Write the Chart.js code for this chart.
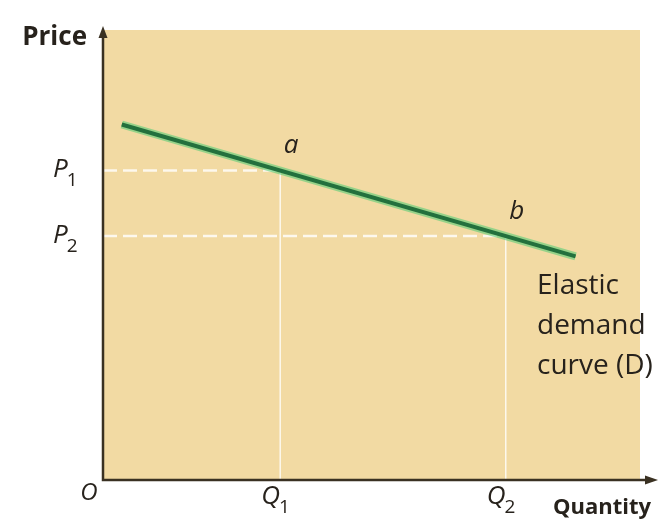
<!DOCTYPE html>
<html>
<head>
<meta charset="utf-8">
<script src="https://cdn.jsdelivr.net/npm/chart.js@4.4.1/dist/chart.umd.min.js"></script>
<style>
  html, body { margin: 0; padding: 0; background: #ffffff; }
  #wrap { width: 663px; height: 523px; }
</style>
</head>
<body>
<div id="wrap"><canvas id="demand" width="663" height="523"></canvas></div>
<script>
(function() {
	'use strict';

	// Demand curve end points (quantity, price).
	const demandQty = [0.35, 8.8];
	const demandPrice = [7.9, 4.97];

	// Marked points a and b on the curve.
	const pointNames = ['a', 'b'];
	const pointQty = [3.3, 7.5];
	const pointPrice = [6.88, 5.42];

	// Axis labels.
	const qtyTicks = ['Q1', 'Q2'];
	const priceTicks = ['P1', 'P2'];
	const curveLabel = ['Elastic', 'demand', 'curve (D)'];

	const axisColor = '#3a3122';
	const fillColor = '#f2daa3';
	const lineColor = '#23703d';
	const glowColor = 'rgba(90, 205, 120, 0.6)';
	const guideColor = 'rgba(255, 255, 255, 0.8)';
	const textColor = '#27221c';
	const fontFamily = '"Open Sans", "Noto Sans", sans-serif';

	const demandData = demandQty.map(function(q, i) {
		return { x: q, y: demandPrice[i] };
	});

	// Dashed horizontal guides from the price axis, thin vertical ones to the quantity axis.
	const guideSets = [];
	pointQty.forEach(function(q, i) {
		guideSets.push({
			data: [{ x: 0, y: pointPrice[i] }, { x: q, y: pointPrice[i] }],
			borderColor: guideColor,
			borderWidth: 2.5,
			borderDash: [14, 6],
			pointRadius: 0,
			showLine: true,
			order: 3
		});
		guideSets.push({
			data: [{ x: q, y: pointPrice[i] }, { x: q, y: 0 }],
			borderColor: guideColor,
			borderWidth: 1.5,
			pointRadius: 0,
			showLine: true,
			order: 3
		});
	});

	// Plot background, axes with arrows and all the text labels.
	const diagramPlugin = {
		id: 'diagram',
		beforeDatasetsDraw: function(chart) {
			const a = chart.chartArea;
			const ctx = chart.ctx;
			ctx.save();
			ctx.fillStyle = fillColor;
			ctx.fillRect(a.left, a.top, a.right - a.left, a.bottom - a.top);
			ctx.restore();
		},
		afterDatasetsDraw: function(chart) {
			const a = chart.chartArea;
			const ctx = chart.ctx;
			const xs = chart.scales.x;
			const ys = chart.scales.y;
			ctx.save();

			// Axes.
			ctx.strokeStyle = axisColor;
			ctx.fillStyle = axisColor;
			ctx.lineWidth = 2.5;
			ctx.beginPath();
			ctx.moveTo(a.left, a.top + 4);
			ctx.lineTo(a.left, a.bottom);
			ctx.lineTo(a.right + 10, a.bottom);
			ctx.stroke();

			ctx.beginPath();
			ctx.moveTo(a.left, a.top - 4);
			ctx.lineTo(a.left - 4.5, a.top + 8);
			ctx.lineTo(a.left + 4.5, a.top + 8);
			ctx.closePath();
			ctx.fill();

			ctx.beginPath();
			ctx.moveTo(a.right + 18, a.bottom);
			ctx.lineTo(a.right + 5, a.bottom - 4.5);
			ctx.lineTo(a.right + 5, a.bottom + 4.5);
			ctx.closePath();
			ctx.fill();

			ctx.fillStyle = textColor;
			ctx.textBaseline = 'middle';

			// Axis titles.
			ctx.font = 'bold 26px ' + fontFamily;
			ctx.textAlign = 'right';
			ctx.fillText('Price', a.left - 16, 38);
			ctx.font = 'bold 22px ' + fontFamily;
			ctx.textAlign = 'left';
			ctx.fillText('Quantity', 553, 508);

			// Origin.
			ctx.font = 'italic 24px ' + fontFamily;
			ctx.textAlign = 'center';
			ctx.fillText('O', a.left - 14, 493);

			// Letter with a subscript digit.
			function subLabel(text, x, y) {
				ctx.font = 'italic 26px ' + fontFamily;
				ctx.textAlign = 'left';
				const w = ctx.measureText(text[0]).width;
				ctx.fillText(text[0], x, y);
				ctx.font = '19px ' + fontFamily;
				ctx.fillText(text[1], x + w - 1, y + 11);
			}

			qtyTicks.forEach(function(t, i) {
				subLabel(t, xs.getPixelForValue(pointQty[i]) - 19, 497);
			});
			priceTicks.forEach(function(t, i) {
				subLabel(t, 53, ys.getPixelForValue(pointPrice[i]) - 1);
			});

			// Point names.
			ctx.font = 'italic 26px ' + fontFamily;
			ctx.textAlign = 'center';
			pointNames.forEach(function(n, i) {
				ctx.fillText(n, xs.getPixelForValue(pointQty[i]) + 11, ys.getPixelForValue(pointPrice[i]) - 25);
			});

			// Curve label.
			ctx.font = '28px ' + fontFamily;
			ctx.textAlign = 'left';
			curveLabel.forEach(function(line, i) {
				ctx.fillText(line, 537, 286 + i * 40);
			});

			ctx.restore();
		}
	};

	const ctx = document.getElementById('demand').getContext('2d');
	new Chart(ctx, {
		type: 'scatter',
		data: {
			datasets: [
				{
					data: demandData,
					borderColor: lineColor,
					borderWidth: 4,
					pointRadius: 0,
					showLine: true,
					order: 1
				},
				{
					data: demandData,
					borderColor: glowColor,
					borderWidth: 8,
					pointRadius: 0,
					showLine: true,
					order: 2
				}
			].concat(guideSets)
		},
		options: {
			responsive: false,
			animation: false,
			layout: {
				padding: { left: 103, right: 23, top: 30, bottom: 43 }
			},
			plugins: {
				legend: { display: false },
				tooltip: { enabled: false }
			},
			scales: {
				x: { type: 'linear', min: 0, max: 10, display: false },
				y: { type: 'linear', min: 0, max: 10, display: false }
			}
		},
		plugins: [diagramPlugin]
	});
})();
</script>
</body>
</html>
